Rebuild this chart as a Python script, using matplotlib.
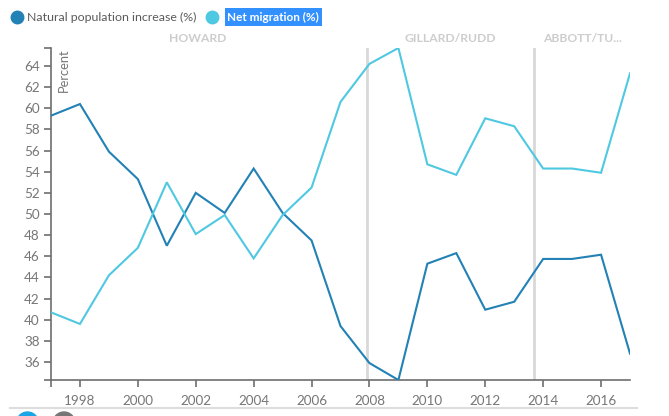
import matplotlib
matplotlib.use("Agg")
import matplotlib.pyplot as plt
from matplotlib.lines import Line2D
from matplotlib.patches import Ellipse, Rectangle
import matplotlib.transforms as mtransforms

years = list(range(1997, 2018))
natural = [59.3, 60.4, 55.9, 53.3, 47.0, 52.0, 50.1, 54.3, 50.1, 47.5,
           39.4, 35.9, 34.3, 45.3, 46.3, 40.95, 41.7, 45.75, 45.75, 46.15, 36.8]
migration = [40.7, 39.6, 44.2, 46.8, 53.0, 48.1, 49.9, 45.8, 49.9, 52.5,
             60.6, 64.2, 65.7, 54.7, 53.7, 59.05, 58.3, 54.3, 54.3, 53.9, 63.3]
periods = ["HOWARD", "GILLARD/RUDD", "ABBOTT/TU..."]
period_starts = [1996.2, 2007.9, 2013.7]
period_ends = [2007.9, 2013.7, 2017.0]
xticks = list(range(1998, 2017, 2))
yticks = list(range(36, 65, 2))
series_names = ["Natural population increase (%)", "Net migration (%)"]

dark = "#2281b5"
light = "#4fc8e2"
axis_col = "#6e6e6e"
tick_col = "#767676"

plt.rcParams['font.family'] = ['Lato', 'DejaVu Sans']

fig = plt.figure(figsize=(6.69, 4.16), dpi=100)
W, H = 669, 416
ax = fig.add_axes([51 / W, 1 - 380 / H, (630 - 51) / W, (380 - 48) / H])

ax.plot(years, natural, color=dark, lw=1.5, solid_joinstyle='miter', zorder=3)
ax.plot(years, migration, color=light, lw=1.5, solid_joinstyle='miter', zorder=3)

ax.set_xlim(1997, 2017)
ax.set_ylim(34.3, 65.7)

for s in period_starts[1:]:
    ax.axvline(s, color="#d8d8d8", lw=2, zorder=1)

trans = mtransforms.blended_transform_factory(ax.transData, ax.transAxes)
for name, a, b in zip(periods, period_starts, period_ends):
    ax.text((a + b) / 2, 1.03, name, transform=trans, ha='center', va='center',
            fontsize=8.7, fontweight='bold', color="#cdcdcd")

for sp in ['top', 'right']:
    ax.spines[sp].set_visible(False)
for sp in ['left', 'bottom']:
    ax.spines[sp].set_color(axis_col)
    ax.spines[sp].set_linewidth(1.2)

ax.set_xticks([1997] + xticks)
ax.set_xticklabels([""] + [str(x) for x in xticks])
ax.set_yticks([34.3] + yticks + [65.7])
ax.set_yticklabels([""] + [str(y) for y in yticks] + [""])
ax.tick_params(axis='both', colors=axis_col, labelcolor=tick_col, labelsize=9.7,
               length=5, width=1.2)
ax.tick_params(axis='x', pad=6)
ax.tick_params(axis='y', pad=3)

ax.text(0.012, 1.0, "Percent", transform=ax.transAxes, rotation=90,
        ha='left', va='top', fontsize=9.3, color=tick_col)

# legend
fig.add_artist(Line2D([16.5 / W], [1 - 17 / H], marker='o', markersize=9,
                      color=dark, transform=fig.transFigure, lw=0))
fig.text(27 / W, 1 - 17.5 / H, series_names[0], ha='left', va='center',
         fontsize=8.9, color="#5a5a5a")
fig.add_artist(Line2D([212 / W], [1 - 17 / H], marker='o', markersize=9,
                      color=light, transform=fig.transFigure, lw=0))
fig.add_artist(Rectangle((225 / W, 1 - 26 / H), 97 / W, 18 / H, color="#3390ff",
                         transform=fig.transFigure, lw=0))
fig.text(227 / W, 1 - 17.5 / H, series_names[1], ha='left', va='center',
         fontsize=8.5, color="white", fontweight='bold')

# bottom separator and icons
fig.add_artist(Line2D([10 / W, 637 / W], [1 - 408 / H, 1 - 408 / H], color="#dddddd",
                      lw=1.5, transform=fig.transFigure))
fig.add_artist(Ellipse((27.5 / W, 1 - 423 / H), 22 / W, 22 / H, color="#1aa6e6",
                       transform=fig.transFigure))
fig.add_artist(Ellipse((64 / W, 1 - 423 / H), 22 / W, 22 / H, color="#777777",
                       transform=fig.transFigure))

fig.savefig("out.png", dpi=100)
